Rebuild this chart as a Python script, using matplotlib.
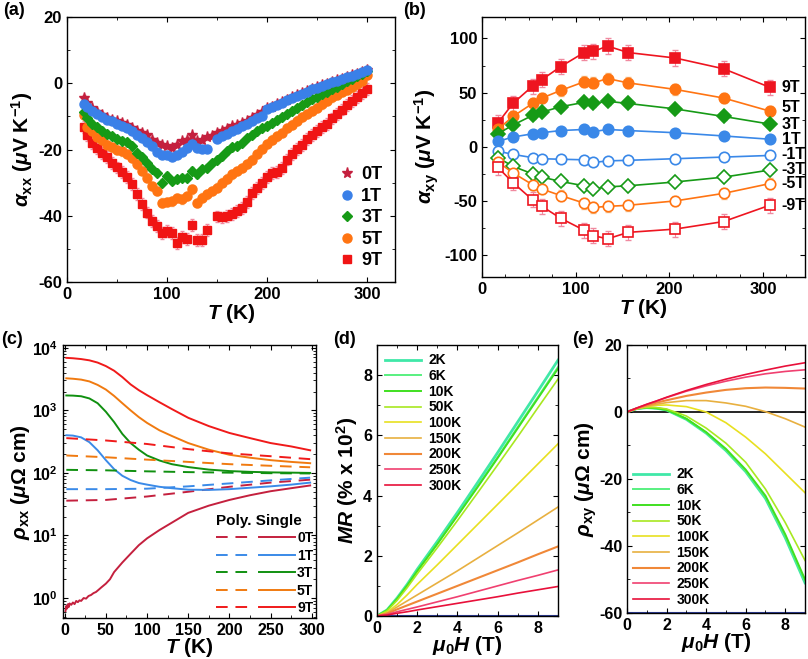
import numpy as np
import matplotlib
matplotlib.use('Agg')
import matplotlib.pyplot as plt
from matplotlib.ticker import MultipleLocator, LogLocator, NullFormatter

# ---------------- (a) alpha_xx vs T ----------------
T_a = [17, 20, 25, 30, 35, 40, 45, 50, 55, 60, 65, 70, 75, 80, 85, 90, 95, 100, 105, 110,
       115, 120, 125, 130, 135, 140, 145, 150, 155, 160, 165, 170, 175, 180, 185, 190, 195, 200,
       205, 210, 215, 220, 225, 230, 235, 240, 245, 250, 255, 260, 265, 270, 275, 280, 285, 290,
       295, 300]
axx_0T = [-4.4, -6, -7.5, -8.5, -9.5, -10.5, -11, -11.5, -12, -12.5, -13.5, -14.5, -15, -15.7,
          -17, -18, -18.5, -19, -19.4, -18.5, -17.5, -17, -15.7, -17.5, -17.2, -16.3, -15.8, -15,
          -14.5, -13.8, -13, -12.5, -12, -11.5, -10.5, -9.5, -8.5, -7.5, -7, -6.3, -5.6, -4.9,
          -4.2, -3.6, -3, -2.3, -1.7, -1.2, -0.6, -0.1, 0.4, 0.9, 1.4, 1.9, 2.4, 2.9, 3.4, 4]
axx_1T = [-6.1, -7, -8.2, -9.3, -10.2, -11, -11.5, -12.3, -13, -13.6, -14.5, -15.5, -16.5, -17.8,
          -19, -20.8, -21.5, -21.5, -22.3, -21.5, -20.8, -19.5, -18.3, -19.5, -19.8, -19.7, np.nan,
          -16.8, -16, -15.2, -14.5, -13.7, -13, -12.2, -11.4, -10.6, -10, -7.6, -7, -6.4, -5.8,
          -5, -4.3, -3.8, -3.2, -2.5, -1.8, -1.3, -0.8, -0.3, 0.3, 0.8, 1.3, 1.8, 2.3, 2.8, 3.3, 4]
axx_3T = [-8.6, -10.5, -12.2, -13.3, -14.3, -15.3, -16, -16.8, -17.3, -17.8, -19, -21, -22.3, -24,
          -25.9, -27, -30, -27.9, -29.5, -29, -28.5, -28.5, -26.4, -27.5, -26, -25.5, -24, -23,
          -22, -20.5, -19.3, -18.8, -18, -16.5, -15.5, -14.3, -13.5, -12.8, -12, -11, -10.2,
          -9.2, -8.3, -7.5, -6.6, -5.6, -4.8, -4, -3.3, -2.5, -1.7, -1, -0.2, 0.6, 1.4, 2.1,
          2.8, 3.6]
axx_5T = [-9.6, -13.2, -14.5, -16.3, -17.2, -18.5, -19.3, -20, -20.5, -21.3, -22.5, -24.5, -26.4,
          -28.5, -31, -32.5, -36, -35.8, -35.6, -34.6, -35, -34, -32, -36.1, -34.5, -33.5, -32.5,
          -31.5, -30, -28.8, -27.5, -26.5, -25.5, -24.3, -23, -21.3, -19.8, -18.3, -17, -16, -15,
          -13.5, -12.5, -11.3, -10.2, -9.2, -8.2, -7.3, -6.3, -5.2, -4.2, -3.5, -2.6, -2, -1.2,
          -0.3, 0.8, 2.6]
axx_9T = [-13.2, -15.5, -18, -19.5, -21, -22.3, -24, -25.4, -26.8, -28.4, -30.5, -33.5, -36.5,
          -39, -41.5, -43.2, -45.2, -44.5, -45.2, -48.3, -46.5, -47, -42.7, -47.3, -47.3, -44.2,
          np.nan, -40.2, -40.5, -40, -39.5, -38.5, -37.5, -35.8, -33, -31.5, -30, -28.4, -27.2,
          -26.7, -25.5, -23, -21.3, -19.8, -18.5, -16.8, -15.5, -14.5, -13.2, -12.2, -10.6, -9.2,
          -7.9, -6.6, -5.2, -4, -2.8, -1.7]
err_a = [0.8, 0.8, 1.0, 1.3, 1.8]
labels_a = ['0T', '1T', '3T', '5T', '9T']

# ---------------- (b) alpha_xy vs T ----------------
T_b = [17, 33, 54, 64, 84, 109, 119, 134, 156, 206, 258, 307]
axy_9T = [22, 40, 56, 62, 74, 87, 88, 93, 87, 82, 72, 55]
axy_5T = [16, 28, 40, 45, 52, 60, 59, 63, 59, 53, 45, 33]
axy_3T = [12, 20, 29, 32, 37, 41, 40, 42, 40, 35, 28, 21]
axy_1T = [5, 9, 12, 13, 15, 16, 14, 16, 15, 13, 10, 7]
axy_m1T = [-4, -7, -10, -11, -11.5, -12, -14.5, -13, -12.5, -11, -9.5, -8]
axy_m3T = [-10, -18, -25, -28, -32, -36, -39, -37, -36, -32.5, -28, -21.5]
axy_m5T = [-14, -24, -35, -39, -45, -52, -56, -55, -54, -50, -43, -34]
axy_m9T = [-19, -33, -49, -55, -66, -77, -82, -85, -79, -76, -69, -54]
err_b = [7, 5, 3, 2, 2, 3, 5, 7]
labels_b = ['9T', '5T', '3T', '1T', '-1T', '-3T', '-5T', '-9T']

# ---------------- (c) rho_xx vs T ----------------
T_c = [2, 10, 20, 30, 40, 50, 60, 70, 80, 90, 100, 115, 130, 150, 175, 200, 225, 250, 275, 298]
rho_single_9T = [6900, 6800, 6600, 6300, 5800, 5100, 4300, 3400, 2600, 2100, 1750, 1350, 1050,
                 760, 560, 435, 360, 300, 265, 230]
rho_single_5T = [3250, 3200, 3100, 2900, 2550, 2150, 1700, 1300, 1000, 780, 630, 480, 390, 300,
                 235, 195, 175, 160, 150, 143]
rho_single_3T = [1730, 1720, 1680, 1550, 1300, 950, 650, 420, 300, 235, 190, 158, 138, 124, 113,
                 107, 104, 102, 101, 100]
rho_single_1T = [400, 395, 370, 310, 230, 160, 115, 90, 77, 69, 65, 60, 57, 54, 53.5, 55, 58, 61,
                 65, 70]
T_c0 = [1, 2, 3, 4, 5, 6, 8, 10, 12, 14, 16, 18, 20, 23, 26, 29, 32, 35, 38, 41, 45, 50, 55, 60,
        70, 80, 90, 100, 115, 130, 150, 175, 200, 225, 250, 275, 298]
rho_single_0T = [0.62, 0.75, 0.68, 0.8, 0.72, 0.82, 0.78, 0.85, 0.8, 0.9, 0.86, 0.92, 0.9, 1.0,
                 0.98, 1.08, 1.12, 1.2, 1.25, 1.35, 1.5, 1.7, 2.0, 2.6, 3.7, 5.1, 7.0, 9.0, 12.2,
                 16, 23, 30, 37, 44, 51, 57, 63]
T_cp = [2, 50, 100, 150, 200, 250, 298]
rho_poly_0T = [36, 37, 42, 50, 60, 70, 78]
rho_poly_1T = [55, 55, 56, 61, 68, 76, 84]
rho_poly_3T = [112, 110, 106, 103, 101, 99, 98]
rho_poly_5T = [190, 178, 163, 150, 138, 130, 123]
rho_poly_9T = [360, 330, 290, 240, 205, 185, 166]
labels_c = ['0T', '1T', '3T', '5T', '9T']

# ---------------- (d) MR and (e) rho_xy vs field ----------------
H = [0, 0.5, 1, 1.5, 2, 3, 4, 5, 6, 7, 8, 9]
temps = ['2K', '6K', '10K', '50K', '100K', '150K', '200K', '250K', '300K']
MR_2K = [0, 0.2, 0.6, 1.05, 1.55, 2.48, 3.44, 4.43, 5.43, 6.45, 7.47, 8.5]
MR_6K = [0, 0.2, 0.58, 1.02, 1.5, 2.41, 3.35, 4.31, 5.28, 6.28, 7.27, 8.27]
MR_10K = [0, 0.19, 0.57, 1.01, 1.49, 2.39, 3.33, 4.28, 5.25, 6.24, 7.23, 8.22]
MR_50K = [0, 0.17, 0.52, 0.94, 1.4, 2.27, 3.17, 4.09, 5.02, 5.96, 6.92, 7.87]
MR_100K = [0, 0.12, 0.38, 0.7, 1.05, 1.7, 2.37, 3.04, 3.71, 4.38, 5.05, 5.72]
MR_150K = [0, 0.1, 0.3, 0.5, 0.7, 1.1, 1.5, 1.92, 2.34, 2.76, 3.19, 3.62]
MR_200K = [0, 0.08, 0.22, 0.35, 0.48, 0.74, 1.0, 1.26, 1.52, 1.78, 2.05, 2.31]
MR_250K = [0, 0.05, 0.14, 0.22, 0.3, 0.47, 0.64, 0.82, 1.0, 1.18, 1.35, 1.53]
MR_300K = [0, 0.03, 0.09, 0.14, 0.2, 0.31, 0.42, 0.53, 0.64, 0.76, 0.87, 0.98]

rxy_2K = [0, 1.0, 1.3, 1.1, 0.6, -2.2, -6.3, -11.5, -17.8, -25.8, -37.5, -51]
rxy_6K = [0, 1.0, 1.3, 1.1, 0.6, -2.1, -6.2, -11.3, -17.6, -25.5, -37, -50.5]
rxy_10K = [0, 1.0, 1.3, 1.1, 0.65, -2.0, -6.0, -11.0, -17.2, -25.0, -36.5, -50]
rxy_50K = [0, 1.0, 1.4, 1.3, 0.9, -1.2, -4.8, -9.3, -15, -23, -33, -44.3]
rxy_100K = [0, 1.0, 1.6, 2.0, 2.1, 1.6, 0.0, -3.2, -7.5, -12.5, -18.3, -24.1]
rxy_150K = [0, 1.0, 1.7, 2.3, 2.8, 3.4, 3.4, 2.7, 1.7, 0.1, -2.0, -4.5]
rxy_200K = [0, 1.1, 2.0, 2.8, 3.5, 4.8, 5.8, 6.6, 7.1, 7.3, 7.2, 7.0]
rxy_250K = [0, 1.2, 2.3, 3.3, 4.3, 6.2, 7.8, 9.2, 10.4, 11.4, 12.1, 12.6]
rxy_300K = [0, 1.2, 2.3, 3.3, 4.4, 6.4, 8.2, 9.8, 11.2, 12.5, 13.7, 14.7]

plt.rcParams.update({
    'font.family': ['Liberation Sans', 'DejaVu Sans'],
    'font.weight': 'bold',
    'axes.labelweight': 'bold',
    'mathtext.fontset': 'custom',
    'mathtext.rm': 'Liberation Sans:bold',
    'mathtext.it': 'Liberation Sans:italic:bold',
    'mathtext.bf': 'Liberation Sans:bold',
    'axes.unicode_minus': False,
    'axes.linewidth': 1.0,
    'xtick.direction': 'in', 'ytick.direction': 'in',
    'xtick.top': True, 'ytick.right': True,
    'xtick.major.size': 3.5, 'ytick.major.size': 3.5,
    'xtick.minor.size': 2, 'ytick.minor.size': 2,
})


def ticks(ax, xmaj, xmin, ymaj=None, ymin=None, fs=12):
    ax.xaxis.set_major_locator(MultipleLocator(xmaj))
    ax.xaxis.set_minor_locator(MultipleLocator(xmin))
    if ymaj is not None:
        ax.yaxis.set_major_locator(MultipleLocator(ymaj))
        ax.yaxis.set_minor_locator(MultipleLocator(ymin))
    ax.tick_params(which='both', labelsize=fs)
    for lab in ax.get_xticklabels() + ax.get_yticklabels():
        lab.set_fontweight('bold')


fig = plt.figure(figsize=(8.08, 6.59), dpi=100)

# ---- (a) ----
ax = fig.add_axes([0.0829, 0.572, 0.406, 0.402])
cols_a = ['#c4203e', '#3a80e8', '#169a16', '#ff7412', '#f01414']
ecols_a = ['#e58a9a', '#9cc0f0', '#8fd08f', '#f5c08a', '#f08aa0']
marks_a = ['*', 'o', 'D', 'o', 's']
ms_a = [8, 6.5, 5.5, 6.5, 5.5]
series_a = [axx_0T, axx_1T, axx_3T, axx_5T, axx_9T]
handles = [None] * 5
for i in [4, 3, 2, 0, 1]:
    ax.errorbar(T_a, series_a[i], yerr=err_a[i], fmt='none', ecolor=ecols_a[i],
                elinewidth=0.8, capsize=1.5, zorder=2)
    handles[i], = ax.plot(T_a, series_a[i], ls='none', marker=marks_a[i], ms=ms_a[i],
                          color=cols_a[i], mec=cols_a[i], label=labels_a[i], zorder=3)
ax.set_xlim(0, 328)
ax.set_ylim(-60, 20)
ticks(ax, 100, 50, 20, 10, fs=12)
ax.set_xlabel(r'$T$ (K)', fontsize=15, labelpad=0)
ax.set_ylabel(r'$\alpha_{\rm xx}$ ($\mu$V K$^{-1}$)', fontsize=15, labelpad=2)
leg = ax.legend(handles=handles, loc='lower right', frameon=False, fontsize=13,
                handletextpad=0.2, labelspacing=0.25, borderaxespad=0.3, handlelength=1.2)
for t in leg.get_texts():
    t.set_fontweight('bold')

# ---- (b) ----
ax = fig.add_axes([0.5965, 0.580, 0.400, 0.3945])
cols_b = ['#ee1520', '#ff7412', '#169a16', '#3a88e8', '#3a88e8', '#169a16', '#ff7412', '#ee1520']
marks_b = ['s', 'o', 'D', 'o', 'o', 'D', 'o', 's']
ms_b = [7.5, 7.5, 7, 7.5, 7.5, 7, 7.5, 7.5]
ecols_b = ['#f08aa0', '#f5c08a', '#8fd08f', '#9cc0f0', '#9cc0f0', '#8fd08f', '#f5c08a', '#f08aa0']
label_shift_b = [0, 3, -0.5, 0, 1, 0.5, 0, 0]
series_b = [axy_9T, axy_5T, axy_3T, axy_1T, axy_m1T, axy_m3T, axy_m5T, axy_m9T]
for i, vals in enumerate(series_b):
    filled = i < 4
    ax.errorbar(T_b, vals, yerr=err_b[i], fmt='none', ecolor=ecols_b[i], elinewidth=0.8,
                capsize=2, zorder=2)
    ax.plot(T_b, vals, '-', marker=marks_b[i], ms=ms_b[i], color=cols_b[i], lw=1.2,
            mfc=cols_b[i] if filled else 'white', mec=cols_b[i], mew=1.2, zorder=3)
    ax.text(T_b[-1] + 13, vals[-1] + label_shift_b[i], labels_b[i], fontsize=11.5,
            fontweight='bold', ha='left', va='center')
ax.set_xlim(0, 345)
ax.set_ylim(-120, 120)
ticks(ax, 100, 25, 50, 25, fs=12)
ax.set_xlabel(r'$T$ (K)', fontsize=15, labelpad=0)
ax.set_ylabel(r'$\alpha_{\rm xy}$ ($\mu$V K$^{-1}$)', fontsize=15, labelpad=2)

# ---- (c) ----
ax = fig.add_axes([0.078, 0.0622, 0.313, 0.414])
cols_c = ['#c4203e', '#3a8ae8', '#109010', '#f07a10', '#f01a1a']
single_c = [rho_single_0T, rho_single_1T, rho_single_3T, rho_single_5T, rho_single_9T]
poly_c = [rho_poly_0T, rho_poly_1T, rho_poly_3T, rho_poly_5T, rho_poly_9T]
dash_h, solid_h = [], []
for i in range(5):
    d, = ax.semilogy(T_cp, poly_c[i], ls=(0, (6, 4)), color=cols_c[i], lw=1.4)
    s, = ax.semilogy(T_c0 if i == 0 else T_c, single_c[i], '-', color=cols_c[i], lw=1.4)
    dash_h.append(d)
    solid_h.append(s)
ax.set_xlim(-2, 305)
ax.set_ylim(0.48, 1.1e4)
ax.xaxis.set_major_locator(MultipleLocator(50))
ax.xaxis.set_minor_locator(MultipleLocator(25))
ax.yaxis.set_major_locator(LogLocator(base=10, numticks=10))
ax.yaxis.set_minor_locator(LogLocator(base=10, subs=np.arange(2, 10), numticks=20))
ax.yaxis.set_minor_formatter(NullFormatter())
ax.tick_params(which='both', labelsize=11.5)
ax.set_xlabel(r'$T$ (K)', fontsize=15, labelpad=-1)
ax.set_ylabel(r'$\rho_{\rm xx}$ ($\mu\Omega$ cm)', fontsize=15, labelpad=0)
leg = ax.legend(handles=dash_h + solid_h, labels=[''] * 5 + labels_c, ncol=2,
                loc='lower right', frameon=False, fontsize=10, title='Poly. Single',
                title_fontproperties={'weight': 'bold', 'size': 11}, alignment='left',
                handlelength=2.6, handletextpad=0.15, columnspacing=0.3,
                labelspacing=0.25, borderpad=0.1, borderaxespad=0.1)
for t in leg.get_texts():
    t.set_fontweight('bold')

# ---- (d) ----
cols_de = ['#40e8a8', '#58f080', '#40e020', '#a8e820', '#e8e020', '#e8b040', '#f08838',
           '#f04070', '#e8103a']
lw_de = [2.0, 1.4, 1.4, 1.2, 1.2, 1.2, 1.5, 1.2, 1.2]
ax = fig.add_axes([0.4666, 0.0653, 0.224, 0.411])
MR_all = [MR_2K, MR_6K, MR_10K, MR_50K, MR_100K, MR_150K, MR_200K, MR_250K, MR_300K]
ax.axhline(0, color='#3040a0', lw=1.5, zorder=1)
for i, vals in enumerate(MR_all):
    ax.plot(H, vals, color=cols_de[i], lw=lw_de[i], label=temps[i])
ax.set_xlim(0, 9)
ax.set_ylim(0, 9)
ticks(ax, 2, 1, 2, 1, fs=11.5)
ax.set_xlabel(r'$\mu_0H$ (T)', fontsize=15, labelpad=-1)
ax.set_ylabel(r'$MR$ (% x 10$^2$)', fontsize=15, labelpad=2)
leg = ax.legend(loc='upper left', frameon=False, fontsize=10, handlelength=2.6,
                handletextpad=0.5, labelspacing=0.12, borderaxespad=0.2)
for t in leg.get_texts():
    t.set_fontweight('bold')

# ---- (e) ----
ax = fig.add_axes([0.776, 0.0698, 0.2203, 0.4067])
rxy_all = [rxy_2K, rxy_6K, rxy_10K, rxy_50K, rxy_100K, rxy_150K, rxy_200K, rxy_250K, rxy_300K]
ax.axhline(0, color='black', lw=1.2, zorder=1)
ax.axhline(-60, color='#3040a0', lw=1.5, zorder=1)
for i, vals in enumerate(rxy_all):
    ax.plot(H, vals, color=cols_de[i], lw=lw_de[i], label=temps[i])
ax.set_xlim(0, 9)
ax.set_ylim(-60, 20)
ticks(ax, 2, 1, 20, 10, fs=11.5)
ax.set_xlabel(r'$\mu_0H$ (T)', fontsize=15, labelpad=-1)
ax.set_ylabel(r'$\rho_{\rm xy}$ ($\mu\Omega$ cm)', fontsize=15, labelpad=0)
leg = ax.legend(loc='lower left', frameon=False, fontsize=10, handlelength=2.6,
                handletextpad=0.5, labelspacing=0.12, borderaxespad=0.05)
for t in leg.get_texts():
    t.set_fontweight('bold')

# panel letters
for x, y, s in [(0.004, 0.997, '(a)'), (0.499, 0.997, '(b)'), (0.002, 0.497, '(c)'),
                (0.412, 0.497, '(d)'), (0.708, 0.497, '(e)')]:
    fig.text(x, y, s, fontsize=13, fontweight='bold', va='top', ha='left')

fig.savefig('out.png', dpi=100)
